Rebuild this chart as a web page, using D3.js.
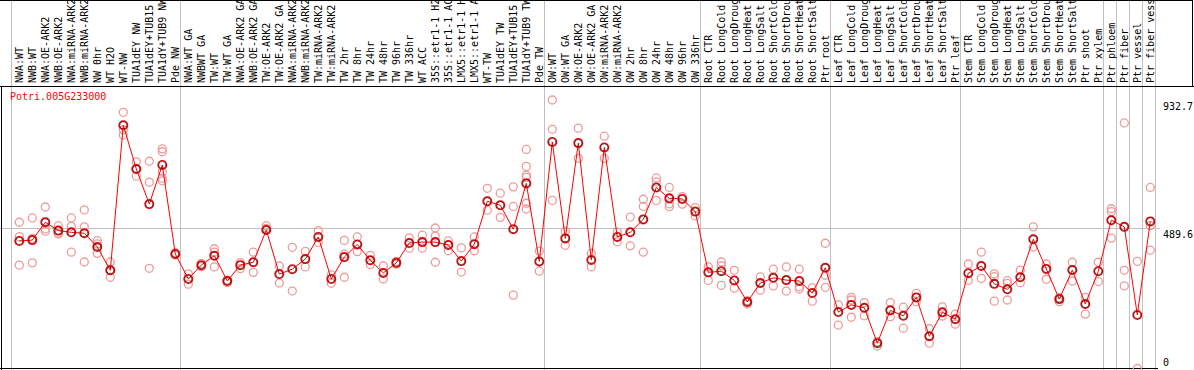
<!DOCTYPE html>
<html>
<head>
<meta charset="utf-8">
<script src="https://cdn.jsdelivr.net/npm/d3@7"></script>
<style>
  body { margin: 0; background: #fff; }
  svg { display: block; }
  text { font-family: "DejaVu Sans Mono", monospace; font-size: 10px; }
</style>
</head>
<body>
<svg id="chart" width="1194" height="370"></svg>
<script>
const gene = "Potri.005G233000";

const categories = [
  "NWA:WT", "NWB:WT", "NWA:OE-ARK2", "NWB:OE-ARK2", "NWA:miRNA-ARK2", "NWB:miRNA-ARK2",
  "NW 0hr", "WT H2O", "WT-NW", "TUA1dEY NW", "TUA1dEY+TUB15 NW", "TUA1dY+TUB9 NW", "Pde NW",
  "NWA:WT GA", "NWBWT GA", "TW:WT", "TW:WT GA", "NWA:OE-ARK2 GA", "NWB:OE-ARK2 GA",
  "TW:OE-ARK2", "TW:OE-ARK2 GA", "NWA:miRNA-ARK2", "NWB:miRNA-ARK2", "TW:miRNA-ARK2",
  "TW:miRNA-ARK2", "TW 2hr", "TW 8hr", "TW 24hr", "TW 48hr", "TW 96hr", "TW 336hr", "WT ACC",
  "35S::etr1-1 H2O", "35S::etr1-1 ACC", "LMX5::etr1-1 H2O", "LMX5::etr1-1 ACC", "WT-TW",
  "TUA1dEY TW", "TUA1dEY+TUB15 TW", "TUA1dY+TUB9 TW", "Pde TW",
  "OW:WT", "OW:WT GA", "OW:OE-ARK2", "OW:OE-ARK2 GA", "OW:miRNA-ARK2", "OW:miRNA-ARK2",
  "OW 2hr", "OW 8hr", "OW 24hr", "OW 48hr", "OW 96hr", "OW 336hr",
  "Root CTR", "Root LongCold", "Root LongDrought", "Root LongHeat", "Root LongSalt",
  "Root ShortCold", "Root ShortDrought", "Root ShortHeat", "Root ShortSalt", "Ptr root",
  "Leaf CTR", "Leaf LongCold", "Leaf LongDrought", "Leaf LongHeat", "Leaf LongSalt",
  "Leaf ShortCold", "Leaf ShortDrought", "Leaf ShortHeat", "Leaf ShortSalt", "Ptr leaf",
  "Stem CTR", "Stem LongCold", "Stem LongDrought", "Stem LongHeat", "Stem LongSalt",
  "Stem ShortCold", "Stem ShortDrought", "Stem ShortHeat", "Stem ShortSalt", "Ptr shoot",
  "Ptr xylem", "Ptr phloem", "Ptr fiber", "Ptr vessel", "Ptr fiber vessel"
];

// mean expression per sample
const means = [
  443, 446, 508, 479, 473, 470, 422, 341, 845, 693, 571, 707, 398,
  311, 359, 392, 304, 359, 369, 481, 328, 345, 380, 457, 311, 387, 431, 376, 332, 367,
  436, 439, 439, 429, 373, 432, 581, 567, 484, 643, 372,
  787, 452, 783, 377, 768, 457, 473, 518, 629, 591, 589, 545,
  334, 338, 306, 231, 297, 315, 307, 304, 262, 350,
  196, 221, 211, 88, 202, 183, 247, 112, 195, 171,
  331, 356, 294, 275, 317, 449, 346, 241, 342, 224, 338,
  515, 492, 186, 511
];

// individual replicates per sample
const replicates = [
  [508, 458, 359], [523, 452, 367], [561, 485, 477], [496, 470, 467], [523, 494, 404],
  [551, 492, 370], [444, 433, 400], [370, 341, 317], [890, 829, 811], [718, 693, 668],
  [720, 647, 348], [763, 753, 683, 661, 652], [402, 394],
  [329, 293], [365, 354], [416, 404, 353], [307, 298], [368, 347], [404, 334],
  [496, 487], [356, 297], [421, 269], [407, 353], [479, 438], [325, 296],
  [445, 397, 317], [457, 406], [393, 361], [356, 311], [372, 362],
  [454, 418], [463, 418], [488, 460, 369], [443, 409], [419, 335], [457, 409],
  [626, 550], [609, 525], [631, 563, 255], [761, 702, 672, 664, 574, 554], [408, 338],
  [932.7, 831, 584], [477, 428], [835, 730], [400, 353], [807, 730], [474, 440],
  [526, 426], [588, 563, 404], [662, 648, 584], [629, 572, 562], [597, 571], [559, 530],
  [353, 306], [370, 357, 289], [341, 279], [236, 224], [318, 272], [345, 287],
  [353, 269], [345, 284, 276], [280, 234], [435, 324, 282],
  [221, 151], [247, 238, 178], [229, 183], [93, 78], [229, 180], [213, 140],
  [261, 232], [138, 88], [214, 182], [189, 154],
  [363, 306], [404, 313], [329, 319, 234], [305, 296, 238], [342, 298], [492, 422],
  [363, 310], [246, 232], [369, 304], [247, 189], [369, 302],
  [555, 545, 453], [853, 341, 287], [372, 0], [629, 496, 411]
];

// last sample index of each group (a separator is drawn after it)
const groupEnds = [-1, 12, 40, 52, 62, 72, 83, 84, 85, 86, 87];

const axisTicks = [932.7, 489.6, 0];
const refLine = 489.6;

const svg = d3.select("#chart");
const width = 1194, height = 370;
const labelBottom = 86;

const x = d3.scalePoint()
    .domain(d3.range(categories.length))
    .range([19.3, 19.3 + 13 * (categories.length - 1)]);

const y = d3.scaleLinear()
    .domain([0, 932.7])
    .range([368.5, 100]);

const sepX = k => k < 0 ? x(0) - 8.5 : x(k) + 5;

// grid
svg.append("g")
    .attr("stroke", "#c0c0c0")
  .selectAll("line")
  .data(groupEnds)
  .join("line")
    .attr("x1", d => Math.round(sepX(d)) + 0.5)
    .attr("x2", d => Math.round(sepX(d)) + 0.5)
    .attr("y1", 0)
    .attr("y2", height);

svg.append("line")
    .attr("stroke", "#c0c0c0")
    .attr("x1", 0).attr("x2", 1160)
    .attr("y1", Math.round(y(refLine)) + 0.5)
    .attr("y2", Math.round(y(refLine)) + 0.5);

// frames
const frame = svg.append("g").attr("stroke", "#000").attr("fill", "none");
frame.append("line").attr("x1", 0).attr("x2", 1192).attr("y1", 0.5).attr("y2", 0.5);
frame.append("line").attr("x1", 0).attr("x2", width).attr("y1", labelBottom + 0.5).attr("y2", labelBottom + 0.5);
frame.append("line").attr("x1", 1192.5).attr("x2", 1192.5).attr("y1", 0).attr("y2", labelBottom);
frame.append("line").attr("x1", 1.5).attr("x2", 1.5).attr("y1", labelBottom).attr("y2", height);
frame.append("line").attr("x1", 0).attr("x2", 1158).attr("y1", 368.5).attr("y2", 368.5);

// sample labels
svg.append("g")
  .selectAll("text")
  .data(categories)
  .join("text")
    .attr("transform", (d, i) => `translate(${x(i)},${labelBottom - 3}) rotate(-90)`)
    .attr("dy", "0.35em")
    .attr("fill", "#000")
    .text(d => d);

// right axis values
svg.append("g")
  .selectAll("text")
  .data(axisTicks)
  .join("text")
    .attr("x", 1163)
    .attr("y", d => d === 0 ? y(d) - 3 : y(d) + 10)
    .attr("fill", "#000")
    .text(d => d);

// gene name
svg.append("text")
    .attr("x", 10)
    .attr("y", 100)
    .attr("fill", "#f00")
    .text(gene);

// replicates
const reps = replicates.flatMap((r, i) => r.map(v => ({ i, v })));
svg.append("g")
    .attr("fill", "none")
    .attr("stroke", "#ef9a9a")
    .attr("stroke-width", 1.3)
  .selectAll("circle")
  .data(reps)
  .join("circle")
    .attr("cx", d => x(d.i))
    .attr("cy", d => y(d.v))
    .attr("r", 4);

// mean line
svg.append("path")
    .datum(means)
    .attr("fill", "none")
    .attr("stroke", "#f00")
    .attr("stroke-width", 1)
    .attr("d", d3.line().x((d, i) => x(i)).y(d => y(d)));

// mean markers
const meanG = svg.append("g").attr("fill", "none");
meanG.selectAll("circle.outer")
  .data(means)
  .join("circle")
    .attr("class", "outer")
    .attr("cx", (d, i) => x(i))
    .attr("cy", d => y(d))
    .attr("r", 4.3)
    .attr("stroke", "#f00")
    .attr("stroke-width", 1.4);
meanG.selectAll("circle.inner")
  .data(means)
  .join("circle")
    .attr("class", "inner")
    .attr("cx", (d, i) => x(i))
    .attr("cy", d => y(d))
    .attr("r", 3.6)
    .attr("stroke", "#000")
    .attr("stroke-width", 0.6);
</script>
</body>
</html>
